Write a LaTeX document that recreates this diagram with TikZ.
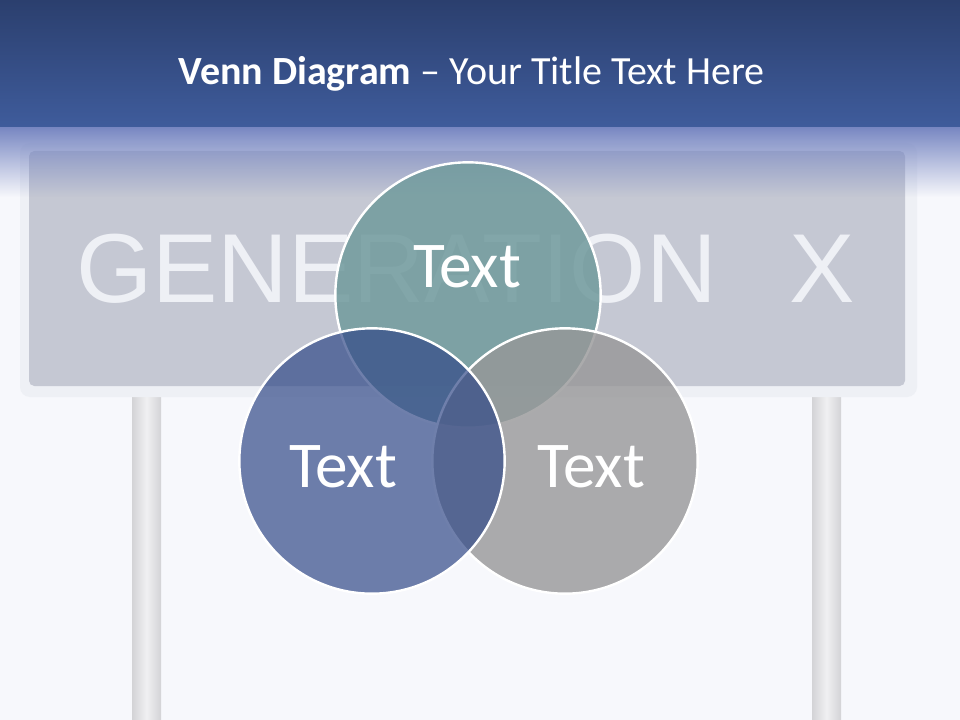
\documentclass[tikz,border=0pt]{standalone}
\usepackage{fontspec}
\setmainfont{Carlito}
\newfontfamily\signfont{Liberation Sans}
\usetikzlibrary{fadings}
\definecolor{bgcol}{HTML}{F7F8FC}
\definecolor{hdrtop}{HTML}{2B3F6E}
\definecolor{hdrbot}{HTML}{3F5C9C}
\definecolor{fadecol}{HTML}{7887C2}
\definecolor{framecol}{HTML}{EEF0F5}
\definecolor{signcol}{HTML}{C5C8D3}
\definecolor{signtext}{HTML}{EEF0F5}
\definecolor{poleedge}{HTML}{D3D3D6}
\definecolor{polemid}{HTML}{F0F0F2}
\definecolor{tealc}{HTML}{739C9E}
\definecolor{bluec}{HTML}{324A88}
\definecolor{greyc}{HTML}{979798}
\tikzset{
  venn/.style={circle, draw=white, line width=1.8pt, minimum size=199pt, inner sep=0pt},
  circtext/.style={anchor=base, text=white, font=\fontsize{49}{51}\selectfont, inner sep=0pt},
  signtxt/.style={anchor=base west, text=signtext, inner sep=0pt, font=\signfont\fontsize{73.5}{75}\selectfont},
  pole/.style={left color=poleedge, right color=poleedge, middle color=polemid}
}
\begin{document}
\begin{tikzpicture}[x=0.75pt,y=-0.75pt]
\useasboundingbox (0,0) rectangle (960,720);
\fill[bgcol] (0,0) rectangle (960,720);
% poles
\shade[pole] (132,397) rectangle (161,720);
\shade[pole] (812,397) rectangle (841,720);
% sign
\fill[framecol, rounded corners=7.5pt] (20,143) rectangle (917,397);
\fill[signcol, rounded corners=4pt] (29,151) rectangle (905,386);
\node[signtxt] (gen) at (76,302) {GENERATION};
\node[signtxt] (x) at (789,302) {X};
% header
\shade[top color=hdrtop, bottom color=hdrbot] (0,0) rectangle (960,127.5);
\fill[fadecol, path fading=south] (0,127) rectangle (960,197);
\node[anchor=base, text=white, font=\fontsize{30}{32}\selectfont, inner sep=0pt] (title) at (471.5,85)
  {\textbf{Venn Diagram} – Your Title Text Here};
% venn circles
\node[venn, fill=tealc, fill opacity=0.87] (ctop) at (468,295) {};
\node[venn, fill=greyc, fill opacity=0.8] (cright) at (565,461) {};
\node[venn, fill=bluec, fill opacity=0.7] (cleft) at (372,461) {};
\node[circtext] (ttop) at (467,287) {Text};
\node[circtext] (tleft) at (343,487) {Text};
\node[circtext] (tright) at (591,487) {Text};
\end{tikzpicture}
\end{document}
